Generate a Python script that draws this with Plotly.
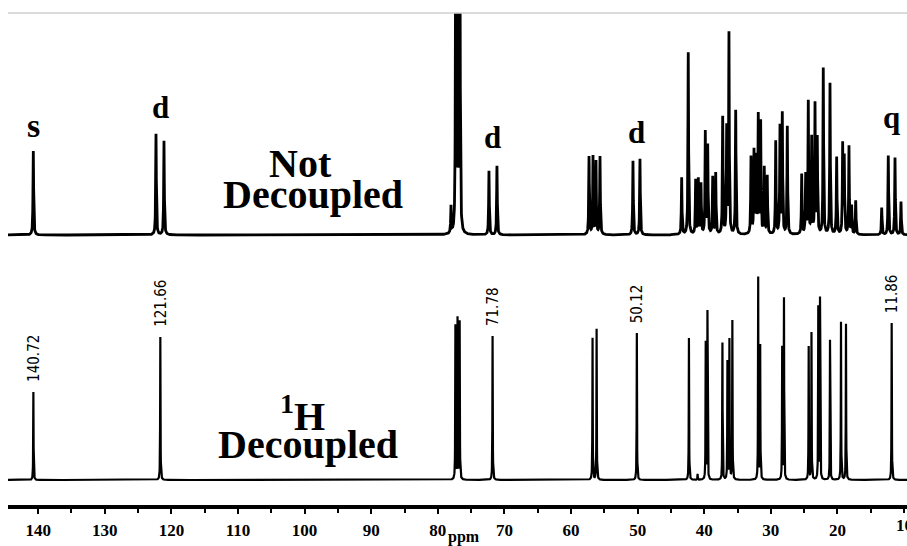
import numpy as np
import plotly.graph_objects as go

# ---------------- data ----------------
# 13C spectrum, NOT decoupled (upper trace): peak positions (ppm) and intensities
coupled_ppm = [140.73, 122.31, 121.11, 78.02, 77.32, 77.00, 76.68, 72.32, 71.12,
               57.30, 56.70, 56.25, 55.65, 50.70, 49.65,
               43.39, 42.40, 41.29, 40.89, 40.49, 39.84, 39.48, 38.73, 38.28,
               37.23, 36.63, 36.29, 35.28, 32.98, 32.53, 32.23, 31.89, 31.53,
               30.99, 30.54, 29.27, 28.63, 28.28, 27.53, 25.37, 24.77, 24.38,
               23.87, 23.37, 23.03, 22.13, 21.12, 20.12, 19.22, 18.98, 18.27,
               17.87, 17.26, 13.36, 12.37, 11.36, 10.46]
coupled_int = [84, 101, 94, 27, 300, 300, 300, 64, 69,
               78, 78, 73, 78, 74, 76,
               57, 182, 54, 55, 50, 102, 88, 57, 61,
               117, 105, 200, 124, 77, 82, 75, 117, 111,
               66, 58, 93, 107, 120, 108, 60, 59, 132,
               96, 129, 95, 166, 151, 77, 89, 76, 88,
               28, 34, 27, 79, 77, 33]

# 1H decoupled (lower trace)
decoupled_ppm = [140.72, 121.66, 77.36, 77.04, 76.72, 71.78, 56.77, 56.16, 50.12,
                 42.30, 41.00, 39.78, 39.52, 37.27, 36.52, 36.22, 35.78, 31.90,
                 31.60, 28.30, 28.03, 24.32, 23.90, 22.88, 22.62, 21.12, 19.47,
                 18.72, 11.86]
decoupled_int = [88, 143, 154, 161, 158, 144, 142, 151, 147,
                 142, 6, 137, 168, 137, 118, 140, 159, 202,
                 134, 132, 181, 133, 147, 172, 181, 140, 158,
                 156, 157]

labeled_ppm = [140.72, 121.66, 71.78, 50.12, 11.86]
mult_labels = ["s", "d", "d", "d", "q"]
mult_ppm = [140.72, 121.66, 71.78, 50.12, 11.86]
tick_vals = [140, 130, 120, 110, 100, 90, 80, 70, 60, 50, 40, 30, 20]
edge_tick = 10  # last label, cut by the right edge of the picture

# ---------------- build traces ----------------
grid = np.arange(9.3, 144.8, 0.02)


def spectrum(ppm, inten, fwhm):
    x = np.unique(np.concatenate([grid, np.array(ppm)]))
    g = fwhm / 2.0
    y = np.zeros_like(x)
    for p, h in zip(ppm, inten):
        y += h * g * g / ((x - p) ** 2 + g * g)
    return x[::-1], y[::-1]


UPPER_OFFSET = 245
xu, yu = spectrum(coupled_ppm, coupled_int, 0.11)
xl, yl = spectrum(decoupled_ppm, decoupled_int, 0.06)

fig = go.Figure()
fig.add_trace(go.Scatter(x=xu, y=yu + UPPER_OFFSET, mode="lines",
                         line=dict(color="black", width=2.8), hoverinfo="skip"))
fig.add_trace(go.Scatter(x=xl, y=yl, mode="lines",
                         line=dict(color="black", width=2.2), hoverinfo="skip"))

serif = "Liberation Serif, Times New Roman, serif"
narrow = "Liberation Sans Narrow, Arial Narrow, DejaVu Sans Condensed, sans-serif"

# shift labels for the decoupled peaks
dec_lookup = dict(zip(decoupled_ppm, decoupled_int))
for p in labeled_ppm:
    h = dec_lookup[p]
    fig.add_annotation(x=p, y=h, xref="x", yref="y", text=f"{p:.2f}",
                       showarrow=False, textangle=-90, yanchor="bottom",
                       xanchor="center", yshift=8,
                       font=dict(family=narrow, size=15, color="black"))

# multiplicity labels above the coupled peaks (pixel row -> data value 480 - row)
mult_rows = [125.5, 107, 137, 132, 117]
mult_sizes = [34, 31, 31, 31, 31]
for t, p, r, s in zip(mult_labels, mult_ppm, mult_rows, mult_sizes):
    fig.add_annotation(x=p, y=480 - r, xref="x", yref="y", text=f"<b>{t}</b>",
                       showarrow=False, xanchor="center", yanchor="middle",
                       font=dict(family=serif, size=s, color="black"))

big = dict(family=serif, size=40, color="black")
for txt, xp, row in [("Not", 100.69, 163), ("Decoupled", 98.81, 194),
                     ("<sup>1</sup>H", 100.39, 413), ("Decoupled", 99.56, 444)]:
    fig.add_annotation(x=xp, y=480 - row, xref="x", yref="y", text=f"<b>{txt}</b>",
                       showarrow=False, xanchor="center", yanchor="middle", font=big)

fig.add_annotation(x=0.507, y=0, xref="paper", yref="paper", text="<b>ppm</b>",
                   showarrow=False, xanchor="center", yanchor="middle", yshift=-32,
                   font=dict(family=serif, size=16, color="black"))

fig.add_annotation(x=edge_tick, y=0, xref="x", yref="paper", text=f"<b>{edge_tick}</b>",
                   showarrow=False, xanchor="center", yanchor="middle", yshift=-20,
                   font=dict(family=serif, size=17, color="black"))

fig.add_shape(type="line", xref="paper", yref="paper", x0=0, x1=1, y0=1, y1=1,
              line=dict(color="#cfcfcf", width=1.5))

fig.update_layout(
    width=907, height=546,
    margin=dict(l=8, r=0, t=13, b=41),
    paper_bgcolor="white", plot_bgcolor="white",
    showlegend=False,
    xaxis=dict(range=[144.53, 9.56], showgrid=False, zeroline=False,
               showline=True, linecolor="black", linewidth=4,
               tickmode="array", tickvals=tick_vals,
               ticktext=[f"<b>{v}</b>" for v in tick_vals],
               ticks="outside", ticklen=5, tickwidth=1.5, tickcolor="black",
               minor=dict(dtick=5, tick0=0, ticks="outside", ticklen=4,
                          tickwidth=1.5, tickcolor="black"),
               ticklabelstandoff=2,
               tickfont=dict(family=serif, size=17, color="black")),
    yaxis=dict(range=[-25, 467], visible=False, showgrid=False, zeroline=False),
)

fig.write_html("out.html")
